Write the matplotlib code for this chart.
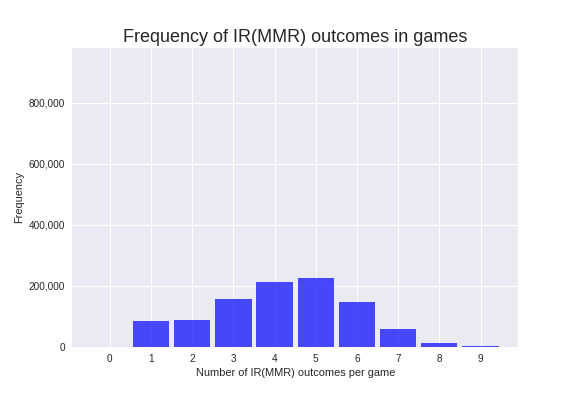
import matplotlib
matplotlib.use("Agg")
import matplotlib.pyplot as plt
from matplotlib.ticker import FuncFormatter

categories = [0, 1, 2, 3, 4, 5, 6, 7, 8, 9]
frequency = [300, 85000, 88000, 157000, 213000, 226000, 148000, 59000, 14000, 3000]

plt.rcParams['font.family'] = ['Liberation Sans', 'DejaVu Sans']

fig = plt.figure(figsize=(8, 5.5), dpi=72)
ax = fig.add_axes([0.125, 0.124, 0.775, 0.755])
ax.set_facecolor('#EAEAF2')
for s in ax.spines.values():
    s.set_visible(False)
ax.grid(True, color='white', linewidth=1)
ax.set_axisbelow(True)
ax.tick_params(length=0, labelsize=10, colors='#262626', pad=7)

ax.bar(categories, frequency, width=0.88, color='blue', alpha=0.7)
ax.set_xticks(categories)
ax.set_xlim(-0.92, 9.92)
ax.set_ylim(0, 980000)
ax.set_yticks([0, 200000, 400000, 600000, 800000])
ax.yaxis.set_major_formatter(FuncFormatter(lambda v, p: f"{int(v):,}"))
ax.set_xlabel('Number of IR(MMR) outcomes per game', fontsize=11, color='#262626')
ax.set_ylabel('Frequency', fontsize=11, color='#262626')
ax.set_title('Frequency of IR(MMR) outcomes in games', fontsize=18, color='#262626')
fig.savefig('out.png', dpi=72)
